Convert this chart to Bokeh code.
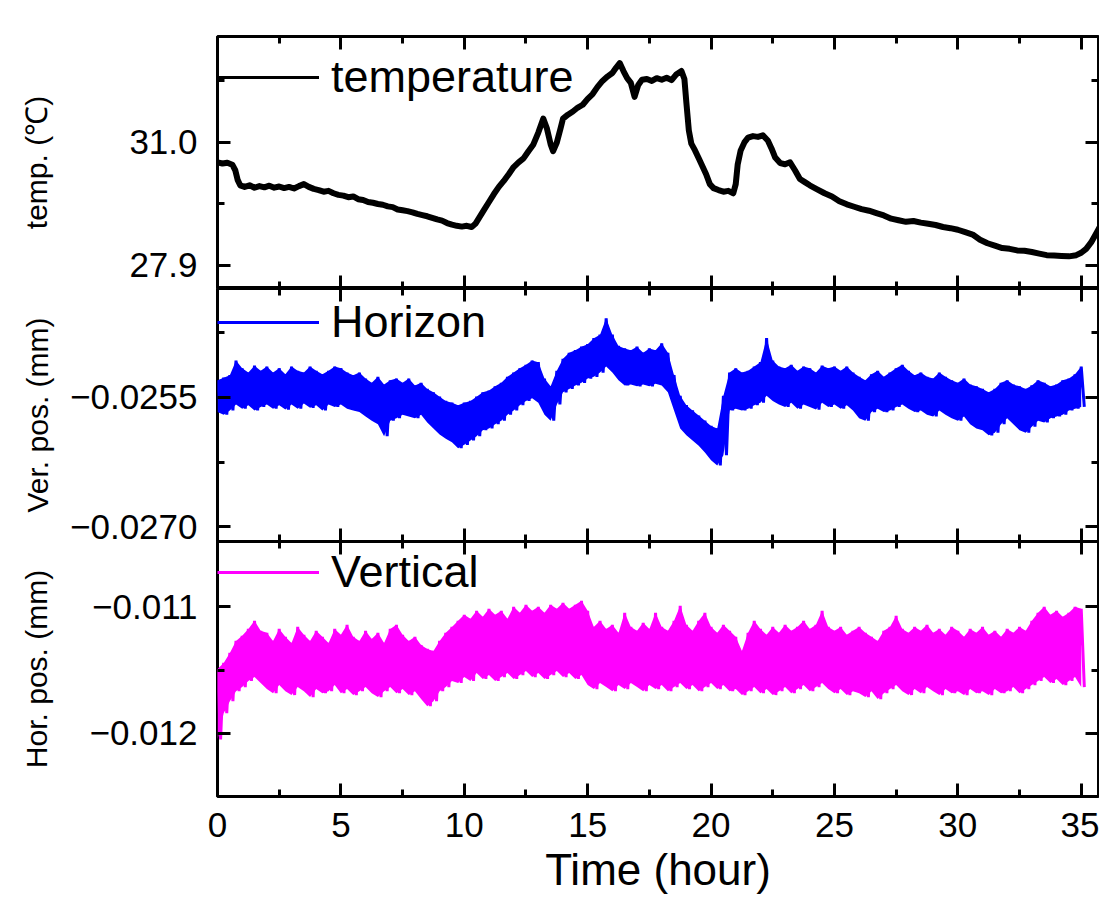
from bokeh.plotting import figure
from bokeh.layouts import column
from bokeh.models import LinearAxis, FixedTicker, Range1d, Legend, LegendItem
from bokeh.embed import file_html
from bokeh.resources import INLINE

# ---------------- data ----------------
temp_time = [0.0, 0.2, 0.4, 0.6, 0.72, 0.82, 0.92, 1.1, 1.3, 1.5, 1.7, 1.9, 2.1, 2.3, 2.5, 2.7, 2.9,
             3.1, 3.3, 3.5, 3.7, 3.9, 4.1, 4.3, 4.5, 4.7, 4.9, 5.1, 5.3, 5.5, 5.7, 5.9, 6.1, 6.3,
             6.5, 6.7, 6.9, 7.1, 7.3, 7.5, 7.7, 7.9, 8.1, 8.3, 8.5, 8.7, 8.9, 9.1, 9.3, 9.5, 9.7,
             9.9, 10.1, 10.3, 10.45, 10.6, 10.8, 11.0, 11.2, 11.4, 11.6, 11.8, 12.0, 12.2, 12.4,
             12.6, 12.8, 13.0, 13.2, 13.35, 13.5, 13.6, 13.75, 13.9, 14.0, 14.2, 14.4, 14.6, 14.8,
             15.0, 15.2, 15.4, 15.6, 15.8, 16.0, 16.15, 16.3, 16.45, 16.6, 16.75, 16.9, 17.05,
             17.2, 17.4, 17.6, 17.8, 18.0, 18.2, 18.4, 18.6, 18.8, 18.92, 19.0, 19.1, 19.2,
             19.35, 19.5, 19.65, 19.8, 19.95, 20.1, 20.3, 20.5, 20.7, 20.9, 21.0, 21.08, 21.2,
             21.35, 21.5, 21.7, 21.9, 22.1, 22.3, 22.45, 22.6, 22.8, 23.0, 23.2, 23.4, 23.6,
             23.8, 24.0, 24.3, 24.6, 24.9, 25.2, 25.5, 25.8, 26.1, 26.4, 26.7, 27.0, 27.3, 27.6,
             27.9, 28.2, 28.5, 28.8, 29.1, 29.4, 29.7, 30.0, 30.3, 30.6, 30.9, 31.2, 31.5, 31.8,
             32.1, 32.4, 32.7, 33.0, 33.3, 33.6, 33.9, 34.2, 34.5, 34.8, 35.0, 35.2, 35.4, 35.6,
             35.74]
temp_c = [30.50, 30.47, 30.49, 30.44, 30.30, 30.05, 29.92, 29.88, 29.92, 29.86, 29.90, 29.87, 29.91,
          29.86, 29.89, 29.85, 29.88, 29.84, 29.90, 29.95, 29.88, 29.83, 29.80, 29.76, 29.78, 29.72,
          29.68, 29.66, 29.62, 29.64, 29.57, 29.55, 29.50, 29.48, 29.45, 29.43, 29.39, 29.37, 29.31,
          29.29, 29.27, 29.24, 29.20, 29.17, 29.14, 29.10, 29.06, 29.03, 28.97, 28.93, 28.90, 28.88,
          28.90, 28.87, 28.95, 29.10, 29.30, 29.50, 29.70, 29.88, 30.03, 30.20, 30.38, 30.50, 30.60,
          30.78, 30.95, 31.25, 31.60, 31.35, 30.95, 30.78, 31.00, 31.35, 31.60, 31.70, 31.78, 31.88,
          31.95, 32.10, 32.22, 32.40, 32.55, 32.66, 32.75, 32.88, 33.00, 32.80, 32.62, 32.50, 32.15,
          32.45, 32.58, 32.60, 32.55, 32.62, 32.58, 32.63, 32.57, 32.72, 32.80, 32.60, 32.00, 31.30,
          30.97, 30.80, 30.60, 30.40, 30.20, 29.95, 29.85, 29.80, 29.76, 29.78, 29.72, 29.95, 30.45,
          30.80, 31.00, 31.12, 31.16, 31.14, 31.18, 31.05, 30.85, 30.62, 30.48, 30.45, 30.50, 30.30,
          30.08, 30.00, 29.92, 29.82, 29.72, 29.64, 29.52, 29.44, 29.38, 29.32, 29.28, 29.22, 29.16,
          29.08, 29.04, 29.00, 29.02, 28.98, 28.95, 28.92, 28.87, 28.84, 28.80, 28.74, 28.68, 28.55,
          28.46, 28.40, 28.34, 28.32, 28.28, 28.27, 28.24, 28.20, 28.16, 28.15, 28.14, 28.13, 28.16,
          28.22, 28.32, 28.48, 28.70, 28.86]

# envelope sampling grid for the noisy position signals (hours)
env_time = [i * 0.25 for i in range(141)]

ver_hi = [-0.02530, -0.02527, -0.02524, -0.02507, -0.02516, -0.02521, -0.02513, -0.02519, -0.02514, -0.02521,
          -0.02516, -0.02523, -0.02514, -0.02519, -0.02521, -0.02514, -0.02519, -0.02523, -0.02519, -0.02514,
          -0.02516, -0.02521, -0.02524, -0.02521, -0.02528, -0.02533, -0.02526, -0.02535, -0.02530, -0.02528,
          -0.02533, -0.02528, -0.02536, -0.02533, -0.02540, -0.02544, -0.02549, -0.02554, -0.02556, -0.02559,
          -0.02556, -0.02554, -0.02549, -0.02544, -0.02542, -0.02537, -0.02533, -0.02526, -0.02521, -0.02516,
          -0.02512, -0.02507, -0.02509, -0.02528, -0.02537, -0.02519, -0.02505, -0.02498, -0.02495, -0.02491,
          -0.02488, -0.02481, -0.02477, -0.02458, -0.02477, -0.02490, -0.02493, -0.02495, -0.02491, -0.02498,
          -0.02493, -0.02495, -0.02487, -0.02498, -0.02524, -0.02548, -0.02559, -0.02565, -0.02571, -0.02577,
          -0.02583, -0.02586, -0.02548, -0.02521, -0.02516, -0.02521, -0.02519, -0.02514, -0.02509, -0.02481,
          -0.02507, -0.02514, -0.02516, -0.02512, -0.02519, -0.02514, -0.02516, -0.02521, -0.02513, -0.02516,
          -0.02514, -0.02519, -0.02514, -0.02521, -0.02526, -0.02530, -0.02523, -0.02519, -0.02526, -0.02521,
          -0.02516, -0.02512, -0.02519, -0.02524, -0.02521, -0.02526, -0.02528, -0.02521, -0.02526, -0.02530,
          -0.02533, -0.02528, -0.02535, -0.02537, -0.02540, -0.02544, -0.02540, -0.02533, -0.02530, -0.02535,
          -0.02537, -0.02540, -0.02536, -0.02530, -0.02533, -0.02537, -0.02535, -0.02530, -0.02528, -0.02523,
          -0.02514]
ver_lo = [-0.02567, -0.02570, -0.02565, -0.02558, -0.02563, -0.02559, -0.02565, -0.02561, -0.02558, -0.02563,
          -0.02559, -0.02564, -0.02558, -0.02563, -0.02557, -0.02562, -0.02559, -0.02565, -0.02558, -0.02561,
          -0.02558, -0.02563, -0.02565, -0.02567, -0.02572, -0.02577, -0.02581, -0.02595, -0.02577, -0.02574,
          -0.02570, -0.02572, -0.02574, -0.02570, -0.02579, -0.02586, -0.02593, -0.02598, -0.02602, -0.02609,
          -0.02605, -0.02600, -0.02595, -0.02588, -0.02586, -0.02581, -0.02577, -0.02570, -0.02565, -0.02559,
          -0.02554, -0.02551, -0.02556, -0.02570, -0.02577, -0.02558, -0.02544, -0.02540, -0.02536, -0.02533,
          -0.02528, -0.02526, -0.02521, -0.02514, -0.02521, -0.02530, -0.02536, -0.02535, -0.02537, -0.02535,
          -0.02537, -0.02534, -0.02536, -0.02544, -0.02565, -0.02586, -0.02594, -0.02600, -0.02606, -0.02614,
          -0.02623, -0.02629, -0.02617, -0.02565, -0.02563, -0.02565, -0.02563, -0.02559, -0.02556, -0.02548,
          -0.02554, -0.02558, -0.02561, -0.02556, -0.02563, -0.02558, -0.02561, -0.02564, -0.02556, -0.02561,
          -0.02558, -0.02563, -0.02559, -0.02565, -0.02574, -0.02577, -0.02567, -0.02563, -0.02567, -0.02565,
          -0.02561, -0.02558, -0.02563, -0.02567, -0.02565, -0.02570, -0.02572, -0.02565, -0.02570, -0.02574,
          -0.02577, -0.02572, -0.02581, -0.02586, -0.02588, -0.02594, -0.02591, -0.02581, -0.02574, -0.02581,
          -0.02588, -0.02591, -0.02584, -0.02577, -0.02579, -0.02574, -0.02572, -0.02570, -0.02565, -0.02563,
          -0.02561]

hor_hi = [-0.011492, -0.011444, -0.011365, -0.011270, -0.011230, -0.011175, -0.011111, -0.011190, -0.011206, -0.011270,
          -0.011175, -0.011238, -0.011286, -0.011159, -0.011222, -0.011270, -0.011190, -0.011238, -0.011286, -0.011175,
          -0.011222, -0.011143, -0.011238, -0.011270, -0.011190, -0.011254, -0.011206, -0.011286, -0.011175, -0.011143,
          -0.011222, -0.011270, -0.011238, -0.011302, -0.011333, -0.011349, -0.011270, -0.011206, -0.011159, -0.011111,
          -0.011063, -0.011095, -0.011032, -0.011079, -0.011016, -0.011063, -0.011032, -0.011095, -0.011000, -0.011048,
          -0.010984, -0.011032, -0.011000, -0.011048, -0.010984, -0.011016, -0.010968, -0.011016, -0.010984, -0.010952,
          -0.011032, -0.011159, -0.011111, -0.011175, -0.011143, -0.011206, -0.011048, -0.011159, -0.011190, -0.011127,
          -0.011175, -0.011048, -0.011159, -0.011190, -0.011111, -0.010992, -0.011143, -0.011190, -0.011111, -0.011048,
          -0.011159, -0.011206, -0.011143, -0.011190, -0.011238, -0.011349, -0.011206, -0.011111, -0.011175, -0.011222,
          -0.011159, -0.011206, -0.011143, -0.011190, -0.011159, -0.011111, -0.011175, -0.011143, -0.011032, -0.011159,
          -0.011190, -0.011159, -0.011222, -0.011190, -0.011159, -0.011206, -0.011238, -0.011270, -0.011190, -0.011159,
          -0.011071, -0.011175, -0.011206, -0.011159, -0.011190, -0.011143, -0.011206, -0.011175, -0.011222, -0.011159,
          -0.011190, -0.011238, -0.011175, -0.011206, -0.011159, -0.011222, -0.011190, -0.011238, -0.011175, -0.011206,
          -0.011159, -0.011190, -0.011111, -0.011048, -0.011000, -0.011063, -0.011032, -0.011079, -0.011048, -0.011000,
          -0.011016]
hor_lo = [-0.012048, -0.011841, -0.011746, -0.011667, -0.011635, -0.011587, -0.011556, -0.011603, -0.011651, -0.011683,
          -0.011619, -0.011667, -0.011698, -0.011635, -0.011667, -0.011714, -0.011651, -0.011683, -0.011667, -0.011619,
          -0.011683, -0.011651, -0.011698, -0.011667, -0.011635, -0.011683, -0.011714, -0.011667, -0.011635, -0.011683,
          -0.011651, -0.011698, -0.011667, -0.011730, -0.011786, -0.011746, -0.011667, -0.011635, -0.011587, -0.011603,
          -0.011556, -0.011587, -0.011524, -0.011571, -0.011540, -0.011587, -0.011556, -0.011524, -0.011571, -0.011540,
          -0.011508, -0.011556, -0.011524, -0.011571, -0.011540, -0.011508, -0.011556, -0.011524, -0.011571, -0.011540,
          -0.011619, -0.011651, -0.011603, -0.011635, -0.011667, -0.011619, -0.011651, -0.011603, -0.011635, -0.011667,
          -0.011619, -0.011651, -0.011619, -0.011667, -0.011635, -0.011603, -0.011651, -0.011619, -0.011667, -0.011635,
          -0.011603, -0.011651, -0.011619, -0.011667, -0.011651, -0.011698, -0.011667, -0.011635, -0.011683, -0.011651,
          -0.011698, -0.011667, -0.011635, -0.011683, -0.011651, -0.011619, -0.011667, -0.011635, -0.011603, -0.011651,
          -0.011683, -0.011651, -0.011698, -0.011667, -0.011683, -0.011714, -0.011667, -0.011730, -0.011683, -0.011651,
          -0.011619, -0.011667, -0.011698, -0.011651, -0.011683, -0.011635, -0.011667, -0.011698, -0.011651, -0.011683,
          -0.011667, -0.011698, -0.011651, -0.011683, -0.011667, -0.011698, -0.011651, -0.011683, -0.011667, -0.011635,
          -0.011683, -0.011651, -0.011619, -0.011587, -0.011556, -0.011603, -0.011571, -0.011619, -0.011587, -0.011556,
          -0.011635]

# ticks and tick labels
x_ticks = [0, 5, 10, 15, 20, 25, 30, 35]
x_minor = [2.5, 7.5, 12.5, 17.5, 22.5, 27.5, 32.5]
x_labels = ["0", "5", "10", "15", "20", "25", "30", "35"]
temp_ticks = [27.9, 31.0]
temp_minor = [26.35, 29.45, 32.55]
temp_labels = ["27.9", "31.0"]
ver_ticks = [-0.027, -0.0255]
ver_minor = [-0.02625, -0.02475]
ver_labels = ["\u22120.0270", "\u22120.0255"]
hor_ticks = [-0.012, -0.011]
hor_minor = [-0.0115]
hor_labels = ["\u22120.012", "\u22120.011"]

# ---------------- styling ----------------
FONT = "Liberation Sans"
TICK_SIZE = "35px"
W = 1099
X_END = 35.70
OVERLAP = 6


def base_fig(height, top, bottom, y0, y1):
    p = figure(width=W, height=height, x_range=Range1d(0, X_END), y_range=Range1d(y0, y1),
               x_axis_type=None, y_axis_type=None, output_backend="svg", toolbar_location=None,
               min_border_left=217, min_border_right=1, min_border_top=top, min_border_bottom=bottom)
    p.outline_line_color = "black"
    p.outline_line_width = 3
    p.outline_line_alpha = 1.0
    p.background_fill_color = "white"
    p.border_fill_color = "white"
    return p


def add_axis(p, side, ticks, minor, labels=None, label_standoff=20,
             axis_label=None, axis_label_size="30px", axis_label_standoff=0):
    ax = LinearAxis(ticker=FixedTicker(ticks=ticks, minor_ticks=minor))
    ax.axis_line_color = None
    ax.major_tick_in = 13
    ax.major_tick_out = 0
    ax.minor_tick_in = 7
    ax.minor_tick_out = 0
    ax.major_tick_line_width = 3
    ax.minor_tick_line_width = 3
    ax.major_tick_line_color = "black"
    ax.minor_tick_line_color = "black"
    if labels is None:
        ax.major_label_text_font_size = "0px"
        ax.major_label_text_color = None
        ax.major_label_standoff = 0
    else:
        ax.major_label_overrides = {t: l for t, l in zip(ticks, labels)}
        ax.major_label_text_font = FONT
        ax.major_label_text_font_size = TICK_SIZE
        ax.major_label_text_color = "black"
        ax.major_label_standoff = label_standoff
    if axis_label is not None:
        ax.axis_label = axis_label
        ax.axis_label_text_font = FONT
        ax.axis_label_text_font_size = axis_label_size
        ax.axis_label_text_font_style = "normal"
        ax.axis_label_text_color = "black"
        ax.axis_label_standoff = axis_label_standoff
    p.add_layout(ax, side)
    return ax


def add_legend(p, label, renderer, y):
    leg = Legend(items=[LegendItem(label=label, renderers=[renderer])], location=(0, y),
                 glyph_width=102, glyph_height=50, label_height=50, label_standoff=12,
                 padding=0, margin=0, spacing=0, border_line_color=None,
                 background_fill_alpha=0.0, label_text_font=FONT,
                 label_text_font_size="45px", label_text_color="black")
    p.add_layout(leg)


def zigzag(times, hi, lo):
    xs, ys = [], []
    for t, h, l in zip(times, hi, lo):
        xs += [t, t + 0.125]
        ys += [h, l]
    return xs, ys


# ---- panel 1: temperature ----
p1 = base_fig(288, 36, 0, 27.32, 33.67)
leg1 = p1.line(temp_time, temp_c, line_color="black", line_width=3)
p1.line(temp_time, temp_c, line_color="black", line_width=6, line_join="round")
add_axis(p1, "left", temp_ticks, temp_minor, temp_labels, axis_label="temp. (\u2103)",
         axis_label_standoff=73)
add_axis(p1, "right", temp_ticks, temp_minor)
add_axis(p1, "above", x_ticks, x_minor)
add_axis(p1, "below", x_ticks, x_minor)
add_legend(p1, "temperature", leg1, 185)

# ---- panel 2: vertical position (labelled Horizon) ----
p2 = base_fig(253 + OVERLAP, 0, OVERLAP, -0.027174, -0.024233)
p2.varea(x=env_time, y1=ver_lo, y2=ver_hi, fill_color="#0000FF", fill_alpha=1.0)
vx, vy = zigzag(env_time, ver_hi, ver_lo)
leg2 = p2.line(vx, vy, line_color="#0000FF", line_width=3)
add_axis(p2, "left", ver_ticks, ver_minor, ver_labels, axis_label="Ver. pos. (mm)",
         axis_label_standoff=13)
add_axis(p2, "right", ver_ticks, ver_minor)
add_axis(p2, "above", x_ticks, x_minor)
add_axis(p2, "below", x_ticks, x_minor)
add_legend(p2, "Horizon", leg2, 193)

# ---- panel 3: horizontal position (labelled Vertical) ----
p3 = base_fig(364, 0, 109, -0.0125, -0.010484)
p3.margin = (-OVERLAP, 0, 0, 0)
p3.varea(x=env_time, y1=hor_lo, y2=hor_hi, fill_color="#FF00FF", fill_alpha=1.0)
hx, hy = zigzag(env_time, hor_hi, hor_lo)
leg3 = p3.line(hx, hy, line_color="#FF00FF", line_width=3)
add_axis(p3, "left", hor_ticks, hor_minor, hor_labels, axis_label="Hor. pos. (mm)",
         axis_label_standoff=33)
add_axis(p3, "right", hor_ticks, hor_minor)
add_axis(p3, "above", x_ticks, x_minor)
add_axis(p3, "below", x_ticks, x_minor, x_labels, label_standoff=16,
         axis_label="Time (hour)", axis_label_size="44px", axis_label_standoff=5)
add_legend(p3, "Vertical", leg3, 198)

layout = column(p1, p2, p3, spacing=0)
open("out.html", "w").write(file_html(layout, INLINE))
